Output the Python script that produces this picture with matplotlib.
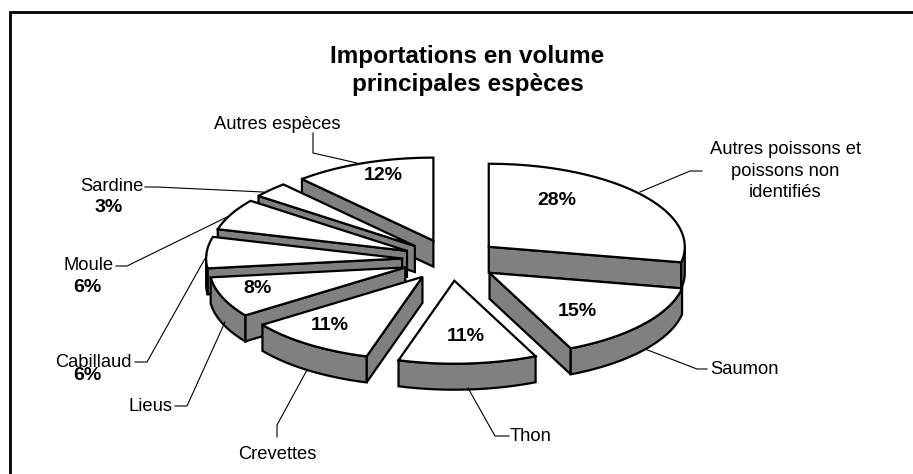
import numpy as np
import matplotlib
matplotlib.use("Agg")
import matplotlib.pyplot as plt
from matplotlib.patches import Polygon, Rectangle

plt.rcParams['font.family'] = ['Liberation Sans', 'DejaVu Sans']

title = "Importations en volume\nprincipales espèces"
species = ["Autres poissons et\npoissons non\nidentifiés", "Saumon", "Thon", "Crevettes", "Lieus",
           "Cabillaud", "Moule", "Sardine", "Autres espèces"]
shares = [28.0, 15.2, 11.4, 10.6, 7.9, 6.1, 6.1, 3.0, 11.7]

W, H = 913, 474
CX, CY, RX, RY, DEPTH, EXPLODE = 451, 260, 196, 83, 26, 0.25
EDGE = 1.6
GREY = "#808080"
LABEL_SIZE = 13.2
PCT_SIZE = 14.0

# positions of the texts and leader lines, in pixels
pct_pos = [(557, 200.5), (577, 311.5), (466, 336.5), (330, 325.5), (258, 288.5), None, None, None, (383, 175.5)]
label_pos = [None, (744, 369.5), (531, 436.5), (277, 454.5), (151, 406.5), (93.5, 362.5), (89, 266), (111.5, 186.5), (277, 124.5)]
outside_pct = {5: (87, 375), 6: (87, 288), 7: (109, 207.5)}
leaders = [
    [(640, 192), (690, 171), (702, 171)],
    [(645, 349), (697, 369), (707, 369)],
    [(468, 388), (495, 436), (509, 436)],
    [(307, 370), (277, 425), (277, 437)],
    [(225, 322), (187, 406), (175, 406)],
    [(207, 255), (147, 362), (135, 362)],
    [(227, 217), (127, 266), (116, 266)],
    [(263, 192), (157, 187), (145, 187)],
    [(313, 133), (313, 153), (357, 163)],
]

fig = plt.figure(figsize=(W / 100, H / 100), dpi=100)
ax = fig.add_axes([0, 0, 1, 1])
ax.set_xlim(0, W)
ax.set_ylim(H, 0)
ax.axis("off")

# frame: only the top and left sides are inside the picture
ax.plot([10, 10, W], [H, 11.5, 11.5], color="black", lw=2.0, solid_joinstyle="miter")


def pt(ang, ox, oy, r=1.0):
    return ox + r * RX * np.sin(ang), oy - r * RY * np.cos(ang)


bounds = np.radians(np.concatenate([[0], np.cumsum(shares)]) / sum(shares) * 360)
wedges = []
for i in range(len(shares)):
    a0, a1 = bounds[i], bounds[i + 1]
    mid = (a0 + a1) / 2
    ox, oy = pt(mid, CX, CY, EXPLODE)
    wedges.append((-np.cos(mid), i, a0, a1, ox, oy))


def wall(pts):
    pts = np.asarray(pts)
    low = pts + [0, DEPTH]
    ax.add_patch(Polygon(np.vstack([pts, low[::-1]]), closed=True, fc=GREY, ec="black", lw=EDGE, joinstyle="miter"))


for _, i, a0, a1, ox, oy in sorted(wedges):
    apex = (ox, oy)
    p0 = pt(a0, ox, oy)
    p1 = pt(a1, ox, oy)
    mid_pt = pt((a0 + a1) / 2, ox, oy)
    # a radial side faces the viewer when the wedge lies above it on screen
    for p in (p0, p1):
        dx, dy = p[0] - ox, p[1] - oy
        if abs(dx) < 1:
            continue
        line_y = oy + dy * (mid_pt[0] - ox) / dx
        if line_y > mid_pt[1]:
            wall([apex, p])
    # curved wall: lower half of the ellipse only
    lo, hi = max(a0, np.pi / 2), min(a1, 3 * np.pi / 2)
    if hi > lo:
        arc = np.linspace(lo, hi, 60)
        wall(np.column_stack(pt(arc, ox, oy)))
    ang = np.linspace(a0, a1, 120)
    xs, ys = pt(ang, ox, oy)
    ax.add_patch(Polygon(np.vstack([[apex], np.column_stack([xs, ys])]), closed=True, fc="white", ec="black",
                         lw=EDGE, joinstyle="miter"))

for line in leaders:
    xs, ys = zip(*line)
    ax.plot(xs, ys, color="black", lw=0.8, solid_joinstyle="miter")

ax.text(467.5, 70.5, title, ha="center", va="center", fontsize=17.5, fontweight="bold", linespacing=1.32, color="black")

for i, s in enumerate(shares):
    if pct_pos[i]:
        ax.text(*pct_pos[i], f"{round(s)}%", ha="center", va="center", fontsize=PCT_SIZE, fontweight="bold")
    if i in outside_pct:
        ax.text(*outside_pct[i], f"{round(s)}%", ha="center", va="center", fontsize=PCT_SIZE, fontweight="bold")
    if label_pos[i]:
        ax.text(*label_pos[i], species[i], ha="center", va="center", fontsize=LABEL_SIZE)

t = ax.text(785.5, 171, species[0], ha="center", va="center", fontsize=LABEL_SIZE, linespacing=1.38)
t.set_clip_path(Rectangle((600, 120), 261.5, 100, transform=ax.transData))

fig.savefig("out.png", dpi=100)
